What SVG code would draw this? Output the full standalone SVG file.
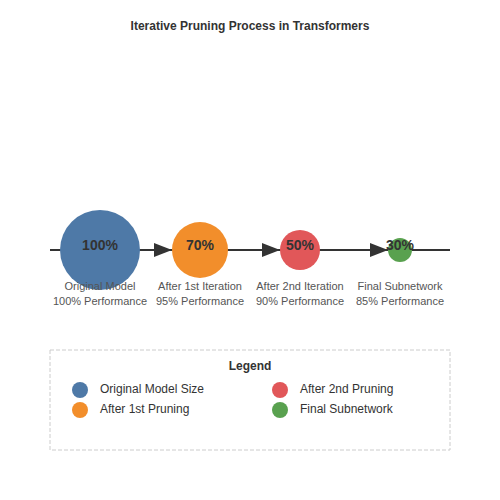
<svg xmlns="http://www.w3.org/2000/svg" width="500" height="500" viewBox="0 0 500 500">
<style>
text{font-family:"Liberation Sans",Arial,sans-serif}
.title{font-size:12px;font-weight:bold;fill:#333;text-anchor:middle}
.pct{font-size:14px;font-weight:bold;fill:#333;text-anchor:middle}
.lbl{font-size:11px;fill:#555;text-anchor:middle}
.leg{font-size:12px;fill:#333}
.conn{stroke:#333;stroke-width:2;fill:none}
</style>
<defs>
<marker id="arr" viewBox="0 0 10 10" refX="10" refY="5" markerWidth="9" markerHeight="9" markerUnits="userSpaceOnUse" orient="auto">
<path d="M0,0 L10,5 L0,10 z" fill="#333"/>
</marker>
<marker id="arrow" viewBox="0 0 18 14" refX="18" refY="7" markerWidth="18" markerHeight="14" markerUnits="userSpaceOnUse" orient="auto">
<path d="M0,0 L18,7 L0,14 z" fill="#333"/>
</marker>
</defs>
<rect width="500" height="500" fill="#fff"/>
<text class="title" x="250" y="30">Iterative Pruning Process in Transformers</text>
<g id="connectors">
<line class="conn" x1="50" y1="250" x2="450" y2="250"/>
<line class="conn" x1="140" y1="250" x2="172" y2="250" marker-end="url(#arrow)"/>
<line class="conn" x1="228" y1="250" x2="280" y2="250" marker-end="url(#arrow)"/>
<line class="conn" x1="320" y1="250" x2="388" y2="250" marker-end="url(#arrow)"/>
</g>
<g id="node-original">
<circle cx="100" cy="250" r="40" fill="#4e79a7"/>
<text class="pct" x="100" y="250">100%</text>
<text class="lbl" x="100" y="290">Original Model</text>
<text class="lbl" x="100" y="305">100% Performance</text>
</g>
<g id="node-iter1">
<circle cx="200" cy="250" r="28" fill="#f28e2b"/>
<text class="pct" x="200" y="250">70%</text>
<text class="lbl" x="200" y="290">After 1st Iteration</text>
<text class="lbl" x="200" y="305">95% Performance</text>
</g>
<g id="node-iter2">
<circle cx="300" cy="250" r="20" fill="#e15759"/>
<text class="pct" x="300" y="250">50%</text>
<text class="lbl" x="300" y="290">After 2nd Iteration</text>
<text class="lbl" x="300" y="305">90% Performance</text>
</g>
<g id="node-final">
<circle cx="400" cy="250" r="12" fill="#59a14f"/>
<text class="pct" x="400" y="250">30%</text>
<text class="lbl" x="400" y="290">Final Subnetwork</text>
<text class="lbl" x="400" y="305">85% Performance</text>
</g>
<g id="legend">
<rect x="50" y="350" width="400" height="100" fill="none" stroke="#ccc" stroke-dasharray="4,2"/>
<text class="title" x="250" y="370">Legend</text>
<circle cx="80" cy="390" r="8" fill="#4e79a7"/>
<text class="leg" x="100" y="393">Original Model Size</text>
<circle cx="80" cy="410" r="8" fill="#f28e2b"/>
<text class="leg" x="100" y="413">After 1st Pruning</text>
<circle cx="280" cy="390" r="8" fill="#e15759"/>
<text class="leg" x="300" y="393">After 2nd Pruning</text>
<circle cx="280" cy="410" r="8" fill="#59a14f"/>
<text class="leg" x="300" y="413">Final Subnetwork</text>
</g>
</svg>
